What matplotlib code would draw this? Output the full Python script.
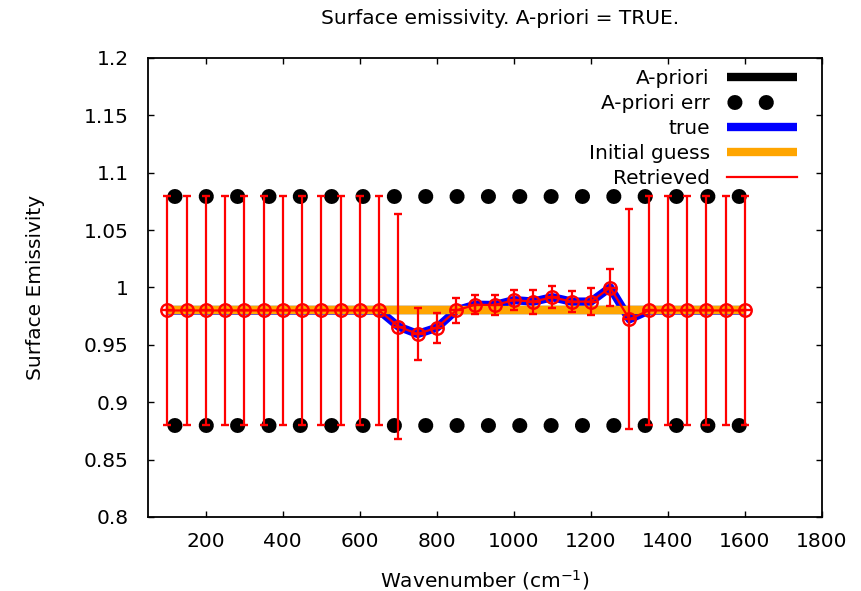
import matplotlib
matplotlib.use("Agg")
import matplotlib.pyplot as plt
from matplotlib.lines import Line2D
import numpy as np

# wavenumber grid (cm-1)
wavenumber = [100, 150, 200, 250, 300, 350, 400, 450, 500, 550, 600, 650,
              700, 750, 800, 850, 900, 950, 1000, 1050, 1100, 1150, 1200,
              1250, 1300, 1350, 1400, 1450, 1500, 1550, 1600]

apriori = [0.98] * 31
apriori_err = [0.1] * 31
initial_guess = [0.98] * 31

true_emis = [0.98] * 12 + [0.966, 0.9595, 0.965, 0.980, 0.985, 0.9847, 0.989,
                           0.9877, 0.9915, 0.9877, 0.9877, 1.000, 0.9723] + [0.98] * 6

retrieved = [0.98] * 12 + [0.966, 0.9595, 0.965, 0.980, 0.985, 0.9847, 0.989,
                           0.9877, 0.9915, 0.9877, 0.9877, 1.000, 0.9723] + [0.98] * 6
retrieved_err = [0.1] * 12 + [0.098, 0.023, 0.013, 0.011, 0.0085, 0.009, 0.009,
                              0.0105, 0.0097, 0.0094, 0.012, 0.0165, 0.096] + [0.1] * 6

x = np.array(wavenumber)
ap = np.array(apriori)
ap_err = np.array(apriori_err)

plt.rcParams['font.family'] = 'DejaVu Sans'
fs = 14.5

fig = plt.figure(figsize=(8.61, 5.91), dpi=100)
ax = fig.add_axes([148 / 861, 1 - 517 / 591, (822 - 148) / 861, (517 - 58) / 591])

dot_lw = 10.8
dotted = (1.6, (0.01, 2.08))

ax.plot(x, ap, color='black', lw=6, solid_capstyle='butt')
for band in (ap + ap_err, ap - ap_err):
    ax.plot(x, band, color='black', lw=dot_lw, linestyle=dotted,
            dash_capstyle='round')
ax.plot(x, true_emis, color='#0000ff', lw=6, solid_capstyle='butt')
ax.plot(x, initial_guess, color='orange', lw=6, solid_capstyle='butt')
ax.errorbar(x, retrieved, yerr=retrieved_err, fmt='o-', color='red', lw=1.6,
            elinewidth=1.6, capsize=2.8, capthick=1.6, ms=9, mfc='none',
            mec='red', mew=1.7)
ax.plot(x, retrieved, '+', color='red', ms=9, mew=1.7)

ax.set_xlim(50, 1800)
ax.set_ylim(0.8, 1.2)
ax.set_xticks(np.arange(200, 1801, 200))
ax.set_yticks(np.arange(0.8, 1.2001, 0.05))
ax.set_yticklabels(['%g' % round(v, 2) for v in np.arange(0.8, 1.2001, 0.05)])
ax.tick_params(direction='in', top=True, right=True, length=4.5, width=1,
               labelsize=fs, colors='black')
ax.tick_params(axis='y', pad=14)
ax.tick_params(axis='x', pad=11)
for sp in ax.spines.values():
    sp.set_linewidth(1.3)

ax.set_xlabel('Wavenumber (cm$^{-1}$)', fontsize=fs, labelpad=12)
ax.set_ylabel('Surface Emissivity', fontsize=fs, labelpad=28)
fig.text(500 / 861, 1 - 18 / 591, 'Surface emissivity. A-priori = TRUE.',
         ha='center', va='center', fontsize=fs)

handles = [
    Line2D([], [], color='black', lw=6, solid_capstyle='butt'),
    Line2D([], [], color='black', lw=dot_lw, linestyle=dotted, dash_capstyle='round'),
    Line2D([], [], color='#0000ff', lw=6, solid_capstyle='butt'),
    Line2D([], [], color='orange', lw=6, solid_capstyle='butt'),
    Line2D([], [], color='red', lw=1.6),
]
labels = ['A-priori', 'A-priori err', 'true', 'Initial guess', 'Retrieved']
ax.legend(handles, labels, loc='upper right', frameon=False, markerfirst=False,
          fontsize=fs, handlelength=3.5, handletextpad=0.83, labelspacing=0.3,
          borderpad=0, borderaxespad=0,
          bbox_to_anchor=(797 / 861, 1 - 69 / 591), bbox_transform=fig.transFigure)

fig.savefig('out.png', dpi=100)
